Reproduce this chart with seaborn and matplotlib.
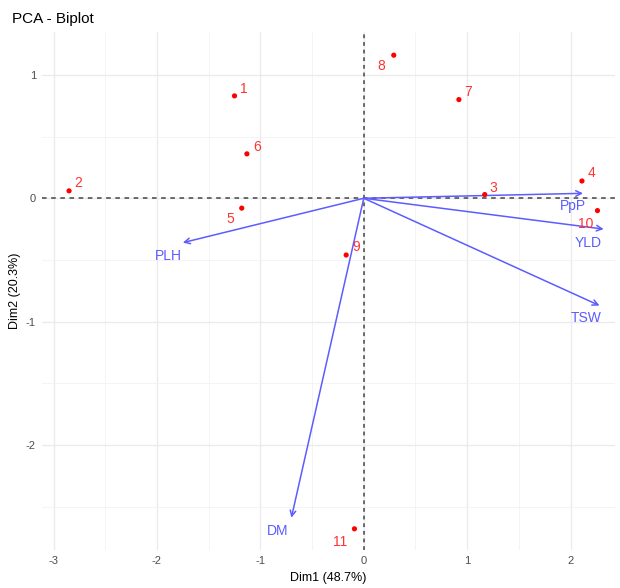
import matplotlib.pyplot as plt
import pandas as pd
import seaborn as sns

# individuals (PCA scores)
ind_labels = ["1", "2", "3", "4", "5", "6", "7", "8", "9", "10", "11"]
dim1 = [-1.25, -2.85, 1.17, 2.11, -1.18, -1.13, 0.92, 0.29, -0.17, 2.26, -0.09]
dim2 = [0.83, 0.06, 0.03, 0.14, -0.08, 0.36, 0.80, 1.16, -0.46, -0.10, -2.68]
# repel-style label offsets (pixels)
ind_dx = [9, 9, 9, 10, -11, 10, 9, -12, 10, -12, -14]
ind_dy = [7, 8, 7, 8, -11, 7, 8, -11, 8, -13, -13]

# variables (arrows)
var_labels = ["PLH", "PpP", "YLD", "TSW", "DM"]
var_x = [-1.75, 2.12, 2.32, 2.28, -0.70]
var_y = [-0.36, 0.04, -0.25, -0.87, -2.59]
var_lx = [-1.89, 2.02, 2.17, 2.15, -0.83]
var_ly = [-0.47, -0.06, -0.36, -0.97, -2.70]

ind = pd.DataFrame({"Dim1": dim1, "Dim2": dim2, "label": ind_labels})

sns.set_theme(style="whitegrid")
plt.rcParams["font.family"] = ["Liberation Sans", "DejaVu Sans"]
plt.rcParams["axes.unicode_minus"] = False

fig = plt.figure(figsize=(6.2, 5.88), dpi=100)
ax = fig.add_axes([0.068, 0.065, 0.924, 0.881])

ax.axhline(0, color="#444444", linestyle=(0, (3, 3)), linewidth=1.1, zorder=1)
ax.axvline(0, color="#444444", linestyle=(0, (2.5, 2.5)), linewidth=1.1, zorder=1)

sns.scatterplot(data=ind, x="Dim1", y="Dim2", color="red", s=14,
                edgecolor="none", ax=ax, zorder=3)
for lab, x, y, dx, dy in zip(ind_labels, dim1, dim2, ind_dx, ind_dy):
    ax.annotate(lab, (x, y), xytext=(dx, dy), textcoords="offset pixels",
                color="#FF3333", fontsize=10, ha="center", va="center", zorder=4)

arrow_col = "#5C5CFF"
for lab, x, y, lx, ly in zip(var_labels, var_x, var_y, var_lx, var_ly):
    ax.annotate("", xy=(x, y), xytext=(0, 0),
                arrowprops=dict(arrowstyle="->", color=arrow_col, lw=1.1,
                                shrinkA=0, shrinkB=0, mutation_scale=10),
                zorder=2)
    ax.text(lx, ly, lab, color=arrow_col, fontsize=10, ha="center",
            va="center", zorder=4)

ax.set_xlim(-3.11, 2.43)
ax.set_ylim(-2.85, 1.35)
ax.set_xticks([-3, -2, -1, 0, 1, 2])
ax.set_yticks([-2, -1, 0, 1])
ax.set_xticks([-2.5, -1.5, -0.5, 0.5, 1.5], minor=True)
ax.set_yticks([-2.5, -1.5, -0.5, 0.5], minor=True)
ax.grid(which="major", color="#EBEBEB", linewidth=1.0)
ax.grid(which="minor", color="#F3F3F3", linewidth=0.6)
for s in ax.spines.values():
    s.set_visible(False)
ax.tick_params(axis="both", which="major", length=2.5, color="#555555",
               labelsize=8, labelcolor="#4D4D4D", pad=2)
ax.tick_params(which="minor", length=0)

ax.set_xlabel("Dim1 (48.7%)", fontsize=9, color="black")
ax.set_ylabel("Dim2 (20.3%)", fontsize=9, color="black")
ax.xaxis.set_label_coords(0.5, -0.043)
ax.yaxis.set_label_coords(-0.037, 0.5)
fig.text(0.019, 0.968, "PCA - Biplot", fontsize=11, color="black",
         ha="left", va="center")

fig.savefig("out.png", dpi=100)
